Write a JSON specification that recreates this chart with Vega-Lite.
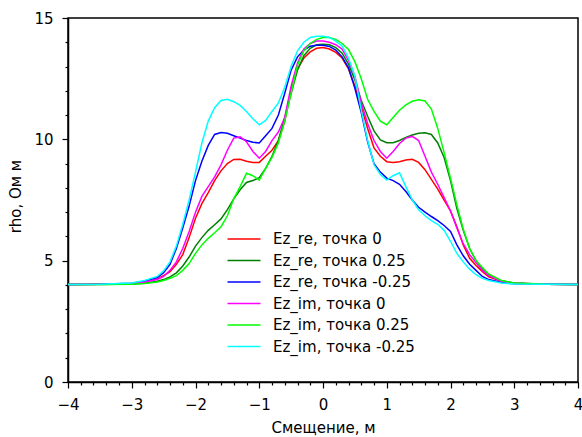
{
  "$schema": "https://vega.github.io/schema/vega-lite/v6.json",
  "width": 510,
  "height": 364,
  "autosize": {"type": "none"},
  "padding": {"left": 68, "top": 18, "right": 4, "bottom": 55},
  "config": {
    "font": "DejaVu Sans",
    "view": {"stroke": "black", "strokeWidth": 1.5},
    "axis": {
      "grid": false,
      "domainColor": "black",
      "domainWidth": 1.5,
      "tickColor": "black",
      "tickWidth": 1.2,
      "labelColor": "black",
      "labelFontSize": 15,
      "titleFontSize": 15,
      "titleFontWeight": "normal",
      "titleColor": "black",
      "labelOverlap": false,
      "labelFlush": false
    }
  },
  "data": {
    "values": [
      {"x": -4, "a": 4.02, "b": 4.02, "c": 4.02, "d": 4.02, "e": 4.02, "f": 4.02},
      {"x": -3.5, "a": 4.03, "b": 4.02, "c": 4.03, "d": 4.03, "e": 4.02, "f": 4.03},
      {"x": -3, "a": 4.05, "b": 4.04, "c": 4.07, "d": 4.06, "e": 4.03, "f": 4.08},
      {"x": -2.8, "a": 4.1, "b": 4.07, "c": 4.15, "d": 4.12, "e": 4.06, "f": 4.18},
      {"x": -2.6, "a": 4.25, "b": 4.15, "c": 4.3, "d": 4.22, "e": 4.12, "f": 4.35},
      {"x": -2.5, "a": 4.38, "b": 4.22, "c": 4.5, "d": 4.35, "e": 4.18, "f": 4.58},
      {"x": -2.4, "a": 4.55, "b": 4.33, "c": 4.85, "d": 4.6, "e": 4.27, "f": 4.95},
      {"x": -2.3, "a": 4.85, "b": 4.5, "c": 5.5, "d": 4.95, "e": 4.38, "f": 5.6},
      {"x": -2.2, "a": 5.25, "b": 4.78, "c": 6.35, "d": 5.5, "e": 4.6, "f": 6.5},
      {"x": -2.1, "a": 5.95, "b": 5.15, "c": 7.25, "d": 6.2, "e": 4.88, "f": 7.5},
      {"x": -2.0, "a": 6.75, "b": 5.6, "c": 8.3, "d": 7.0, "e": 5.3, "f": 8.65},
      {"x": -1.9, "a": 7.35, "b": 5.95, "c": 9.1, "d": 7.65, "e": 5.65, "f": 9.85},
      {"x": -1.8, "a": 7.8, "b": 6.25, "c": 9.75, "d": 8.05, "e": 5.92, "f": 10.75},
      {"x": -1.7, "a": 8.3, "b": 6.48, "c": 10.2, "d": 8.45, "e": 6.15, "f": 11.3},
      {"x": -1.6, "a": 8.7, "b": 6.72, "c": 10.28, "d": 8.95, "e": 6.4, "f": 11.6},
      {"x": -1.5, "a": 9.0, "b": 7.1, "c": 10.25, "d": 9.55, "e": 6.85, "f": 11.65},
      {"x": -1.4, "a": 9.17, "b": 7.55, "c": 10.15, "d": 10.05, "e": 7.55, "f": 11.55},
      {"x": -1.3, "a": 9.18, "b": 7.92, "c": 10.05, "d": 10.1, "e": 8.05, "f": 11.4},
      {"x": -1.2, "a": 9.1, "b": 8.22, "c": 9.95, "d": 9.9, "e": 8.6, "f": 11.15},
      {"x": -1.1, "a": 9.05, "b": 8.3, "c": 9.88, "d": 9.5, "e": 8.5, "f": 10.85},
      {"x": -1.0, "a": 9.05, "b": 8.42, "c": 9.85, "d": 9.22, "e": 8.32, "f": 10.6},
      {"x": -0.9, "a": 9.3, "b": 8.8, "c": 10.15, "d": 9.5, "e": 8.8, "f": 10.78},
      {"x": -0.8, "a": 9.55, "b": 9.3, "c": 10.45, "d": 9.95, "e": 9.25, "f": 11.15},
      {"x": -0.7, "a": 9.95, "b": 9.95, "c": 11.0, "d": 10.3, "e": 9.85, "f": 11.5},
      {"x": -0.6, "a": 10.75, "b": 10.9, "c": 11.9, "d": 10.9, "e": 10.75, "f": 12.15},
      {"x": -0.5, "a": 12.05, "b": 11.9, "c": 12.85, "d": 12.2, "e": 11.9, "f": 13.0},
      {"x": -0.4, "a": 12.9, "b": 12.85, "c": 13.4, "d": 13.15, "e": 13.05, "f": 13.65},
      {"x": -0.3, "a": 13.35, "b": 13.45, "c": 13.68, "d": 13.72, "e": 13.65, "f": 14.0},
      {"x": -0.2, "a": 13.6, "b": 13.75, "c": 13.84, "d": 13.95, "e": 13.95, "f": 14.2},
      {"x": -0.1, "a": 13.75, "b": 13.9, "c": 13.88, "d": 14.05, "e": 14.12, "f": 14.25},
      {"x": 0, "a": 13.78, "b": 13.92, "c": 13.88, "d": 14.05, "e": 14.2, "f": 14.25},
      {"x": 0.1, "a": 13.72, "b": 13.9, "c": 13.83, "d": 14.0, "e": 14.2, "f": 14.2},
      {"x": 0.2, "a": 13.58, "b": 13.78, "c": 13.68, "d": 13.9, "e": 14.12, "f": 14.05},
      {"x": 0.3, "a": 13.35, "b": 13.55, "c": 13.4, "d": 13.72, "e": 13.95, "f": 13.85},
      {"x": 0.4, "a": 12.9, "b": 13.1, "c": 12.95, "d": 13.25, "e": 13.7, "f": 13.35},
      {"x": 0.5, "a": 12.2, "b": 12.45, "c": 12.1, "d": 12.6, "e": 13.2, "f": 12.6},
      {"x": 0.6, "a": 11.35, "b": 11.6, "c": 11.1, "d": 11.5, "e": 12.5, "f": 11.2},
      {"x": 0.7, "a": 10.45, "b": 10.95, "c": 9.9, "d": 10.65, "e": 11.65, "f": 9.95},
      {"x": 0.8, "a": 9.65, "b": 10.35, "c": 9.0, "d": 9.95, "e": 11.15, "f": 8.95},
      {"x": 0.9, "a": 9.3, "b": 9.98, "c": 8.65, "d": 9.5, "e": 10.75, "f": 8.55},
      {"x": 1.0, "a": 9.08, "b": 9.86, "c": 8.4, "d": 9.22, "e": 10.6, "f": 8.32},
      {"x": 1.1, "a": 9.05, "b": 9.86, "c": 8.3, "d": 9.5, "e": 10.9, "f": 8.5},
      {"x": 1.2, "a": 9.08, "b": 9.95, "c": 8.15, "d": 9.83, "e": 11.2, "f": 8.62},
      {"x": 1.3, "a": 9.15, "b": 10.08, "c": 7.85, "d": 10.05, "e": 11.42, "f": 8.05},
      {"x": 1.4, "a": 9.18, "b": 10.18, "c": 7.5, "d": 10.12, "e": 11.57, "f": 7.5},
      {"x": 1.5, "a": 9.05, "b": 10.25, "c": 7.2, "d": 9.95, "e": 11.63, "f": 7.1},
      {"x": 1.6, "a": 8.75, "b": 10.27, "c": 7.0, "d": 9.3, "e": 11.58, "f": 6.85},
      {"x": 1.7, "a": 8.35, "b": 10.2, "c": 6.82, "d": 8.65, "e": 11.25, "f": 6.65},
      {"x": 1.8, "a": 7.95, "b": 9.85, "c": 6.65, "d": 8.15, "e": 10.45, "f": 6.5},
      {"x": 1.9, "a": 7.5, "b": 9.25, "c": 6.45, "d": 7.6, "e": 9.45, "f": 6.25},
      {"x": 2.0, "a": 7.05, "b": 8.3, "c": 6.2, "d": 7.05, "e": 8.4, "f": 5.8},
      {"x": 2.1, "a": 6.4, "b": 7.15, "c": 5.65, "d": 6.35, "e": 7.3, "f": 5.3},
      {"x": 2.2, "a": 5.65, "b": 6.25, "c": 5.2, "d": 5.7, "e": 6.3, "f": 4.95},
      {"x": 2.3, "a": 5.1, "b": 5.5, "c": 4.85, "d": 5.25, "e": 5.5, "f": 4.65},
      {"x": 2.4, "a": 4.8, "b": 5.0, "c": 4.6, "d": 4.92, "e": 5.0, "f": 4.42},
      {"x": 2.5, "a": 4.55, "b": 4.65, "c": 4.35, "d": 4.6, "e": 4.72, "f": 4.27},
      {"x": 2.6, "a": 4.33, "b": 4.42, "c": 4.22, "d": 4.38, "e": 4.45, "f": 4.18},
      {"x": 2.8, "a": 4.15, "b": 4.17, "c": 4.1, "d": 4.15, "e": 4.18, "f": 4.08},
      {"x": 3.0, "a": 4.07, "b": 4.08, "c": 4.05, "d": 4.07, "e": 4.08, "f": 4.04},
      {"x": 3.5, "a": 4.03, "b": 4.03, "c": 4.03, "d": 4.03, "e": 4.03, "f": 4.03},
      {"x": 4, "a": 4.02, "b": 4.02, "c": 4.02, "d": 4.02, "e": 4.02, "f": 4.02}
    ]
  },
  "transform": [{"fold": ["a", "b", "c", "d", "e", "f"], "as": ["series", "rho"]}],
  "mark": {"type": "line", "strokeWidth": 1.5},
  "encoding": {
    "x": {
      "field": "x",
      "type": "quantitative",
      "scale": {"domain": [-4, 4], "nice": false},
      "axis": {
        "values": [-4, -3.8, -3.6, -3.4, -3.2, -3, -2.8, -2.6, -2.4, -2.2, -2, -1.8, -1.6, -1.4, -1.2, -1, -0.8, -0.6, -0.4, -0.2, 0, 0.2, 0.4, 0.6, 0.8, 1, 1.2, 1.4, 1.6, 1.8, 2, 2.2, 2.4, 2.6, 2.8, 3, 3.2, 3.4, 3.6, 3.8, 4],
        "labelExpr": "abs(datum.value - round(datum.value)) < 0.001 ? format(datum.value, 'd') : ''",
        "tickSize": {"condition": {"test": "abs(datum.value - round(datum.value)) < 0.001", "value": 6}, "value": 3},
        "labelPadding": 9,
        "title": "Смещение, м",
        "titlePadding": 8
      }
    },
    "y": {
      "field": "rho",
      "type": "quantitative",
      "scale": {"domain": [0, 15], "nice": false},
      "axis": {
        "values": [0, 1, 2, 3, 4, 5, 6, 7, 8, 9, 10, 11, 12, 13, 14, 15],
        "labelExpr": "datum.value % 5 === 0 ? format(datum.value, 'd') : ''",
        "tickSize": {"condition": {"test": "datum.value % 5 === 0", "value": 6}, "value": 3},
        "labelPadding": 9,
        "title": "rho, Ом м",
        "titleX": -45,
        "titleY": 178
      }
    },
    "color": {
      "field": "series",
      "type": "nominal",
      "scale": {
        "domain": ["a", "b", "c", "d", "e", "f"],
        "range": ["#ff0000", "#008000", "#0000ff", "#ff00ff", "#00ff00", "#00ffff"]
      },
      "legend": {
        "title": null,
        "orient": "none",
        "legendX": 164,
        "legendY": 209,
        "padding": 0,
        "labelFontSize": 15,
        "labelColor": "black",
        "symbolType": "M-1.5,0H1.5",
        "symbolSize": 484,
        "symbolStrokeWidth": 1.5,
        "labelOffset": 17,
        "rowPadding": 1.5,
        "labelExpr": "{'a': 'Ez_re, точка 0', 'b': 'Ez_re, точка 0.25', 'c': 'Ez_re, точка -0.25', 'd': 'Ez_im, точка 0', 'e': 'Ez_im, точка 0.25', 'f': 'Ez_im, точка -0.25'}[datum.label]"
      }
    }
  }
}
